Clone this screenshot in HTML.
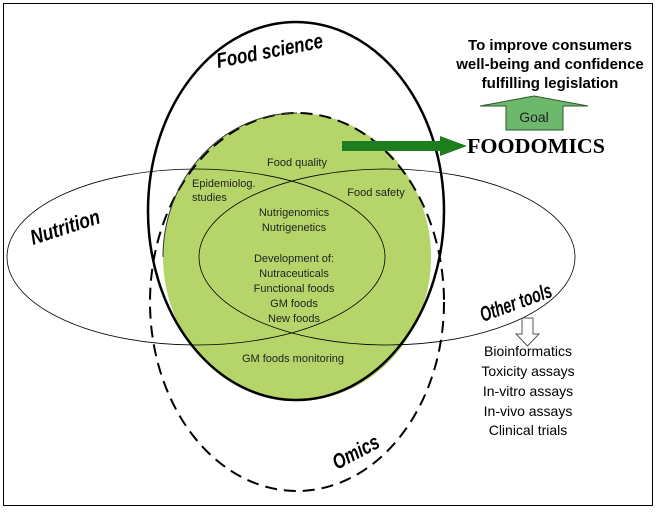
<!DOCTYPE html>
<html><head><style>body{margin:0;background:#fff}svg{display:block}</style></head><body>
<svg width="657" height="512" viewBox="0 0 657 512" xmlns="http://www.w3.org/2000/svg" font-family="Liberation Sans, sans-serif">
<rect x="3.5" y="3.5" width="649" height="502" fill="none" stroke="#000" stroke-width="1"/>
<ellipse cx="297" cy="257" rx="134" ry="144" fill="#b5d56a"/>
<ellipse cx="296" cy="211" rx="148" ry="189" fill="none" stroke="#000" stroke-width="2.5"/>
<ellipse cx="297" cy="302" rx="147" ry="189" fill="none" stroke="#000" stroke-width="2" stroke-dasharray="12,7"/>
<path d="M297 113 A134 144 0 0 0 163 257" fill="none" stroke="#333" stroke-width="1"/>
<ellipse cx="196" cy="257" rx="189" ry="88" fill="none" stroke="#000" stroke-width="0.8"/>
<ellipse cx="387" cy="257" rx="188" ry="88" fill="none" stroke="#000" stroke-width="0.8"/>
<polygon points="342,141 440,141 440,136 467,146 440,156 440,151 342,151" fill="#1e7d1e"/>
<polygon points="506,130 506,106 480,106 534,96 588,106 563,106 563,130" fill="#6db86d" stroke="#2a5a2a" stroke-width="1"/>
<text x="534" y="122" font-size="14" text-anchor="middle" fill="#222">Goal</text>
<g font-weight="bold" font-size="15" text-anchor="middle">
<text x="550" y="50">To improve consumers</text>
<text x="550" y="69">well-being and confidence</text>
<text x="550" y="88">fulfilling legislation</text>
</g>
<text x="536" y="153" font-family="Liberation Serif, serif" font-weight="bold" font-size="21" text-anchor="middle" textLength="138" lengthAdjust="spacingAndGlyphs">FOODOMICS</text>
<g font-weight="bold" font-style="italic" font-size="21">
<text transform="translate(218,68) rotate(-11)" textLength="108" lengthAdjust="spacingAndGlyphs">Food science</text>
<text transform="translate(33,245) rotate(-18)" textLength="72" lengthAdjust="spacingAndGlyphs">Nutrition</text>
<text transform="translate(483,322) rotate(-20)" textLength="75" lengthAdjust="spacingAndGlyphs">Other tools</text>
<text transform="translate(337,470) rotate(-28)" textLength="50" lengthAdjust="spacingAndGlyphs">Omics</text>
</g>
<g font-size="11" fill="#222" text-anchor="middle">
<text x="297" y="166">Food quality</text>
<text x="192" y="187" text-anchor="start">Epidemiolog.</text>
<text x="192" y="201" text-anchor="start">studies</text>
<text x="376" y="196">Food safety</text>
<text x="294" y="216">Nutrigenomics</text>
<text x="294" y="231">Nutrigenetics</text>
<text x="294" y="262">Development of:</text>
<text x="294" y="277">Nutraceuticals</text>
<text x="294" y="292">Functional foods</text>
<text x="294" y="307">GM foods</text>
<text x="294" y="322">New foods</text>
<text x="293" y="362">GM foods monitoring</text>
</g>
<polygon points="522,318 533,318 533,334 539,334 527.5,346 516,334 522,334" fill="#fff" stroke="#555" stroke-width="1"/>
<g font-size="14" text-anchor="middle">
<text x="528" y="356">Bioinformatics</text>
<text x="528" y="376">Toxicity assays</text>
<text x="528" y="396">In-vitro assays</text>
<text x="528" y="416">In-vivo assays</text>
<text x="528" y="435">Clinical trials</text>
</g>
</svg>
</body></html>
